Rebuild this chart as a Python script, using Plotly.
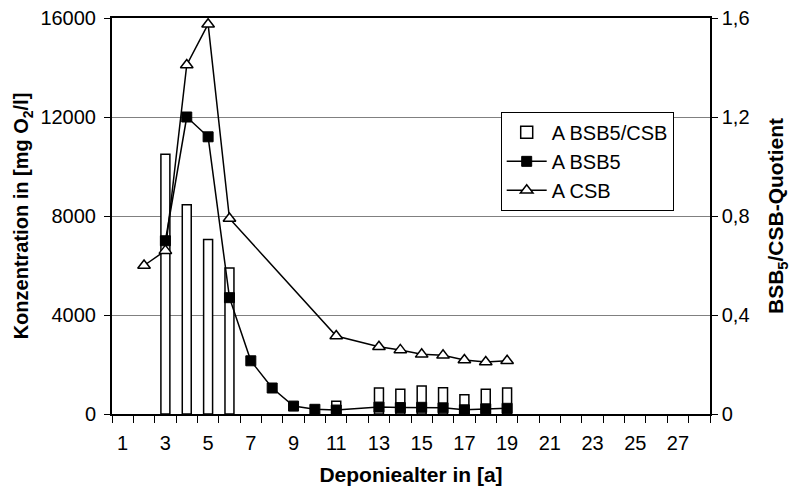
import plotly.graph_objects as go

# ---- data ----
tick_years = [1, 3, 5, 7, 9, 11, 13, 15, 17, 19, 21, 23, 25, 27]

years_quot = [3, 4, 5, 6, 11, 13, 14, 15, 16, 17, 18, 19]
quotient = [1.05, 0.845, 0.705, 0.59, 0.052, 0.105, 0.10, 0.113, 0.106, 0.078, 0.10, 0.105]

years_bsb5 = [3, 4, 5, 6, 7, 8, 9, 10, 11, 13, 14, 15, 16, 17, 18, 19]
bsb5 = [7000, 12000, 11200, 4700, 2150, 1050, 320, 190, 160, 280, 260, 270, 250, 170, 210, 230]

years_csb = [2, 3, 4, 5, 6, 11, 13, 14, 15, 16, 17, 18, 19]
csb = [6000, 6600, 14100, 15750, 7900, 3150, 2720, 2590, 2410, 2370, 2180, 2100, 2150]

y_ticks = [0, 4000, 8000, 12000, 16000]
y2_ticks = [0, 0.4, 0.8, 1.2, 1.6]
y2_labels = ["0", "0,4", "0,8", "1,2", "1,6"]

FONT = "Liberation Sans, Arial, sans-serif"

fig = go.Figure()

fig.add_trace(go.Bar(
    x=years_quot, y=quotient, name="A BSB5/CSB", yaxis="y",
    width=0.42, marker=dict(color="white", line=dict(color="black", width=1.5)),
))
fig.add_trace(go.Scatter(
    x=years_bsb5, y=bsb5, name="A BSB5", yaxis="y2", mode="lines+markers",
    line=dict(color="black", width=1.5),
    marker=dict(symbol="square", size=10, color="black", line=dict(color="black", width=1)),
))
fig.add_trace(go.Scatter(
    x=years_csb, y=csb, name="A CSB", yaxis="y2", mode="lines+markers",
    line=dict(color="black", width=1.5),
    marker=dict(symbol="triangle-up", size=11, color="white", line=dict(color="black", width=1.5)),
))

fig.update_layout(
    width=795, height=493,
    margin=dict(l=112, r=85, t=18, b=79),
    paper_bgcolor="white", plot_bgcolor="white",
    font=dict(family=FONT, size=20, color="black"),
    showlegend=True,
    legend=dict(
        x=0.65, y=0.763, xanchor="left", yanchor="top",
        bgcolor="white", bordercolor="black", borderwidth=1,
        font=dict(size=20), itemwidth=40, tracegroupgap=0,
    ),
    xaxis=dict(
        range=[0.5, 28.5], tickmode="array", tickvals=tick_years,
        ticktext=[str(v) for v in tick_years], ticks="",
        ticklabelstandoff=10, automargin=False,
        showline=True, linecolor="black", linewidth=2, mirror=True,
        showgrid=False, zeroline=False,
        minor=dict(tick0=0.5, dtick=1, ticks="outside", ticklen=7,
                   tickcolor="black", tickwidth=1, showgrid=False),
        title=dict(text="<b>Deponiealter in [a]</b>", font=dict(size=21), standoff=14),
        tickfont=dict(size=20),
    ),
    yaxis=dict(
        side="right", range=[0, 1.6], tickmode="array", tickvals=y2_ticks,
        ticktext=y2_labels, ticks="outside", ticklen=6, tickcolor="black",
        automargin=False,
        showline=True, linecolor="black", linewidth=1.5,
        showgrid=False, zeroline=False,
        title=dict(text="<b>BSB<sub>5</sub>/CSB-Quotient</b>", font=dict(size=21), standoff=20),
        tickfont=dict(size=20),
    ),
    yaxis2=dict(
        side="left", overlaying="y", range=[0, 16000], tickmode="array",
        tickvals=y_ticks, ticktext=[str(v) for v in y_ticks],
        ticks="outside", ticklen=6, tickcolor="black", ticklabelstandoff=4,
        automargin=False,
        showline=True, linecolor="black", linewidth=2,
        showgrid=True, gridcolor="#808080", gridwidth=1, zeroline=False,
        title=dict(text="<b>Konzentration in [mg O<sub>2</sub>/l]</b>", font=dict(size=20), standoff=6),
        tickfont=dict(size=20),
    ),
)

fig.write_html("out.html")
